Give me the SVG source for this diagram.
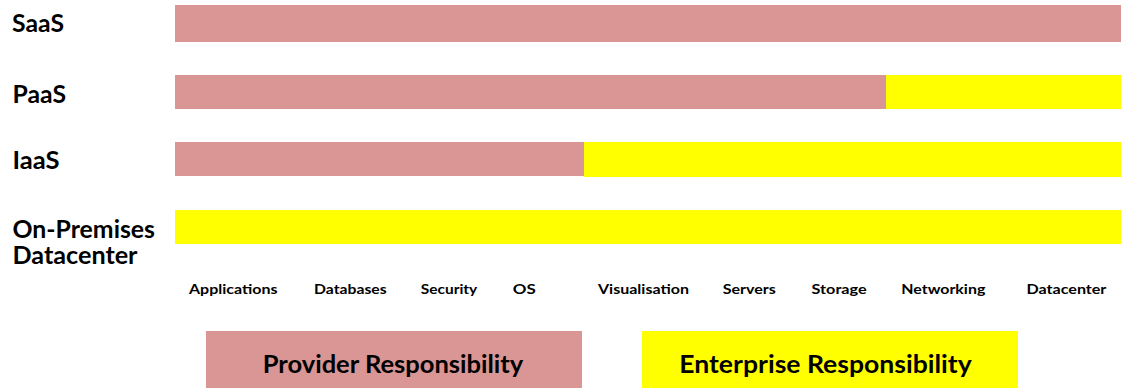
<svg xmlns="http://www.w3.org/2000/svg" width="1121" height="390" viewBox="0 0 1121 390">
<style>
.p{fill:#D99694}
.y{fill:#FFFF00}
text{font-family:"Lato","Open Sans","Liberation Sans",sans-serif;font-weight:bold;fill:#000}
.row{font-size:24px}
.col{font-size:13px}
.leg{font-size:25px}
</style>
<rect width="1121" height="390" fill="#fff"/>
<g id="saas">
<text class="row" x="12" y="32.3" textLength="52" lengthAdjust="spacingAndGlyphs">SaaS</text>
<rect class="p" x="175" y="5" width="946" height="37"/>
</g>
<g id="paas">
<text class="row" x="12.5" y="103.3" textLength="53.5" lengthAdjust="spacingAndGlyphs">PaaS</text>
<rect class="p" x="175" y="75" width="711" height="34"/>
<rect class="y" x="886" y="75" width="235" height="34"/>
</g>
<g id="iaas">
<text class="row" x="12.5" y="169" textLength="47" lengthAdjust="spacingAndGlyphs">IaaS</text>
<rect class="p" x="175" y="142" width="409" height="34"/>
<rect class="y" x="584" y="142" width="537" height="35"/>
</g>
<g id="onprem">
<text class="row" x="12.5" y="237.5" textLength="142.5" lengthAdjust="spacingAndGlyphs">On-Premises</text>
<text class="row" x="12.5" y="264.2" textLength="125" lengthAdjust="spacingAndGlyphs">Datacenter</text>
<rect class="y" x="175" y="210" width="946" height="34"/>
</g>
<g id="columns">
<text class="col" x="189" y="293.5" textLength="88.5" lengthAdjust="spacingAndGlyphs">Applications</text>
<text class="col" x="314" y="293.5" textLength="72.7" lengthAdjust="spacingAndGlyphs">Databases</text>
<text class="col" x="420.7" y="293.5" textLength="56.6" lengthAdjust="spacingAndGlyphs">Security</text>
<text class="col" x="512.7" y="293.5" textLength="23" lengthAdjust="spacingAndGlyphs">OS</text>
<text class="col" x="598" y="293.5" textLength="91" lengthAdjust="spacingAndGlyphs">Visualisation</text>
<text class="col" x="722.7" y="293.5" textLength="53" lengthAdjust="spacingAndGlyphs">Servers</text>
<text class="col" x="811.6" y="293.5" textLength="55" lengthAdjust="spacingAndGlyphs">Storage</text>
<text class="col" x="901.3" y="293.5" textLength="84" lengthAdjust="spacingAndGlyphs">Networking</text>
<text class="col" x="1026.4" y="293.5" textLength="80" lengthAdjust="spacingAndGlyphs">Datacenter</text>
</g>
<g id="legend-provider">
<rect class="p" x="206" y="331" width="376" height="57"/>
<text class="leg" x="262.7" y="373.3" textLength="260.6" lengthAdjust="spacingAndGlyphs">Provider Responsibility</text>
</g>
<g id="legend-enterprise">
<rect class="y" x="642" y="331" width="376" height="57"/>
<text class="leg" x="679.3" y="373" textLength="292.4" lengthAdjust="spacingAndGlyphs">Enterprise Responsibility</text>
</g>
</svg>
